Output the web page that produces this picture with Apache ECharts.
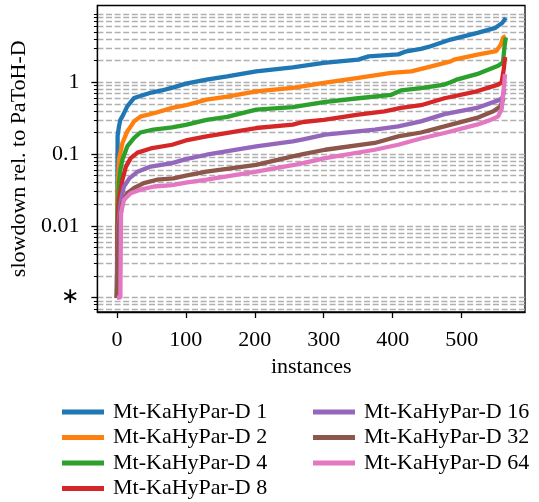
<!DOCTYPE html>
<html><head><meta charset="utf-8">
<script src="https://cdn.jsdelivr.net/npm/echarts@6/dist/echarts.min.js"></script>
<style>html,body{margin:0;padding:0;background:#fff}#c{width:539px;height:502px}</style>
</head><body><div id="c"></div>
<script>
const seriesNames = ['Mt-KaHyPar-D 1','Mt-KaHyPar-D 2','Mt-KaHyPar-D 4','Mt-KaHyPar-D 8','Mt-KaHyPar-D 16','Mt-KaHyPar-D 32','Mt-KaHyPar-D 64'];
const xTicks = [0,100,200,300,400,500];
const yMajorTicks = [0.001,0.01,0.1,1];
const yTickLabels = ['\u2217','0.01','0.1','1'];

const inst1 = [0,1,3,5,8,15,25,35,50,65,82,100,130,160,202,255,300,350,365,408,420,441,455,484,523,549,559,564];
const slow1 = [0.001,0.18,0.243,0.3,0.336,0.463,0.606,0.65,0.72,0.77,0.85,0.96,1.09,1.21,1.42,1.62,1.87,2.07,2.3,2.45,2.7,2.92,3.18,3.94,4.89,5.74,6.73,7.9];
const inst2 = [0,1,3,8,15,25,35,55,80,100,130,160,202,255,300,350,398,427,456,484,489,523,550,557,560,564];
const slow2 = [0.001,0.03,0.084,0.143,0.207,0.286,0.336,0.374,0.44,0.48,0.574,0.63,0.749,0.836,0.98,1.15,1.35,1.42,1.67,1.96,2.07,2.43,2.71,3.36,4.2,4.4];
const inst3 = [0,1,3,5,8,15,25,34,53,80,100,130,160,202,255,300,350,398,412,441,475,484,494,522,542,553,560,562,564];
const slow3 = [0.001,0.015,0.04,0.06,0.084,0.128,0.168,0.2,0.22,0.235,0.255,0.3,0.33,0.416,0.45,0.53,0.6,0.67,0.77,0.83,0.93,1.0,1.1,1.3,1.55,1.7,1.9,3.0,4.2];
const inst4 = [0,1,3,8,13,20,30,49,80,100,130,202,255,270,300,350,388,412,441,475,522,553,558,561,563];
const slow4 = [0.001,0.01,0.023,0.044,0.067,0.088,0.105,0.12,0.135,0.155,0.177,0.231,0.257,0.28,0.3,0.354,0.394,0.44,0.48,0.6,0.75,0.93,1.0,1.5,2.25];
const inst5 = [0,2,6,10,18,30,49,80,100,130,202,255,270,302,374,408,441,475,522,553,559,562];
const slow5 = [0.001,0.01,0.023,0.035,0.046,0.057,0.067,0.075,0.085,0.098,0.128,0.15,0.16,0.187,0.219,0.243,0.286,0.36,0.44,0.56,0.6,0.8];
const inst6 = [0,3,8,15,25,39,58,82,100,130,202,255,270,302,374,408,441,475,522,546,556,561];
const slow6 = [0.001,0.01,0.021,0.0285,0.0337,0.0395,0.044,0.046,0.05,0.057,0.071,0.093,0.1,0.115,0.143,0.177,0.2,0.243,0.319,0.394,0.46,0.6];
const inst7 = [0,5,6,10,20,34,54,80,100,130,202,255,270,302,374,408,441,475,522,542,553,558,561,563];
const slow7 = [0.001,0.001,0.015,0.023,0.0285,0.032,0.0354,0.037,0.04,0.044,0.057,0.07,0.075,0.088,0.115,0.135,0.165,0.197,0.257,0.3,0.336,0.42,0.8,1.3];

const colors = ['#1f77b4','#ff7f0e','#2ca02c','#d62728','#9467bd','#8c564b','#e377c2'];
const insts = [inst1,inst2,inst3,inst4,inst5,inst6,inst7];
const slows = [slow1,slow2,slow3,slow4,slow5,slow6,slow7];

const yMinorTicks = [];
for (let e = -4; e <= 1; e++) for (let m = 2; m <= 9; m++) yMinorTicks.push(+(m * Math.pow(10, e)).toPrecision(3));

const FONT = 'Liberation Serif';
const FS = 22;
const gridStyle = {show: true, lineStyle: {color: '#b0b0b0', width: 1.4, type: [6, 2.6]}};

const series = seriesNames.map((n, i) => ({
  name: n, type: 'line', showSymbol: false, symbol: 'none', animation: false,
  yAxisIndex: 0, z: 3 + i,
  lineStyle: {width: 4.3, color: colors[i]}, itemStyle: {color: colors[i]},
  data: insts[i].map((x, k) => [x, slows[i][k]])
}));

const legendCommon = {orient: 'vertical', icon: 'rect', itemWidth: 42, itemHeight: 5, itemGap: 3.5, height: 140,
  textStyle: {fontFamily: FONT, fontSize: FS, color: '#000', lineHeight: 20, padding: [0,0,0,4]}, padding: 0};

const chart = echarts.init(document.getElementById('c'), null, {renderer: 'canvas'});
chart.setOption({
  animation: false,
  textStyle: {fontFamily: FONT},
  grid: {left: 93, right: 14, top: 5.5, bottom: 190, show: true, borderColor: '#000', borderWidth: 1.3, containLabel: false},
  xAxis: {type: 'value', min: -28.3, max: 591.9, name: 'instances', nameLocation: 'middle', nameGap: 44,
    nameTextStyle: {fontFamily: FONT, fontSize: FS, color: '#000'},
    axisLine: {show: true, onZero: false, lineStyle: {color: '#000', width: 1.3}},
    axisTick: {show: true, customValues: xTicks, length: 6, lineStyle: {color: '#000', width: 1.3}},
    axisLabel: {customValues: xTicks, fontFamily: FONT, fontSize: FS, color: '#000', margin: 17},
    splitLine: {show: false}},
  yAxis: [
    {type: 'log', logBase: 10, min: 0.000632, max: 11.75, name: 'slowdown rel. to PaToH-D', nameLocation: 'middle', nameGap: 66,
      nameTextStyle: {fontFamily: FONT, fontSize: FS, color: '#000'},
      axisLine: {show: true, onZero: false, lineStyle: {color: '#000', width: 1.3}},
      axisTick: {show: true, customValues: yMajorTicks, length: 6, lineStyle: {color: '#000', width: 1.3}},
      axisLabel: {customValues: yMajorTicks, fontFamily: FONT, fontSize: FS, color: '#000', margin: 18,
        formatter: v => yTickLabels[Math.round(Math.log10(v)) + 3]},
      splitLine: gridStyle},
    {type: 'log', logBase: 10, min: 0.000632, max: 11.75, position: 'left',
      axisLine: {show: false, onZero: false},
      axisTick: {show: true, customValues: yMinorTicks, length: 3.5, lineStyle: {color: '#000', width: 1}},
      axisLabel: {show: false},
      splitLine: gridStyle}
  ],
  legend: [
    Object.assign({left: 62, top: 401, data: seriesNames.slice(0, 4)}, legendCommon),
    Object.assign({left: 313, top: 401, data: seriesNames.slice(4)}, legendCommon)
  ],
  series: series
});
</script></body></html>
